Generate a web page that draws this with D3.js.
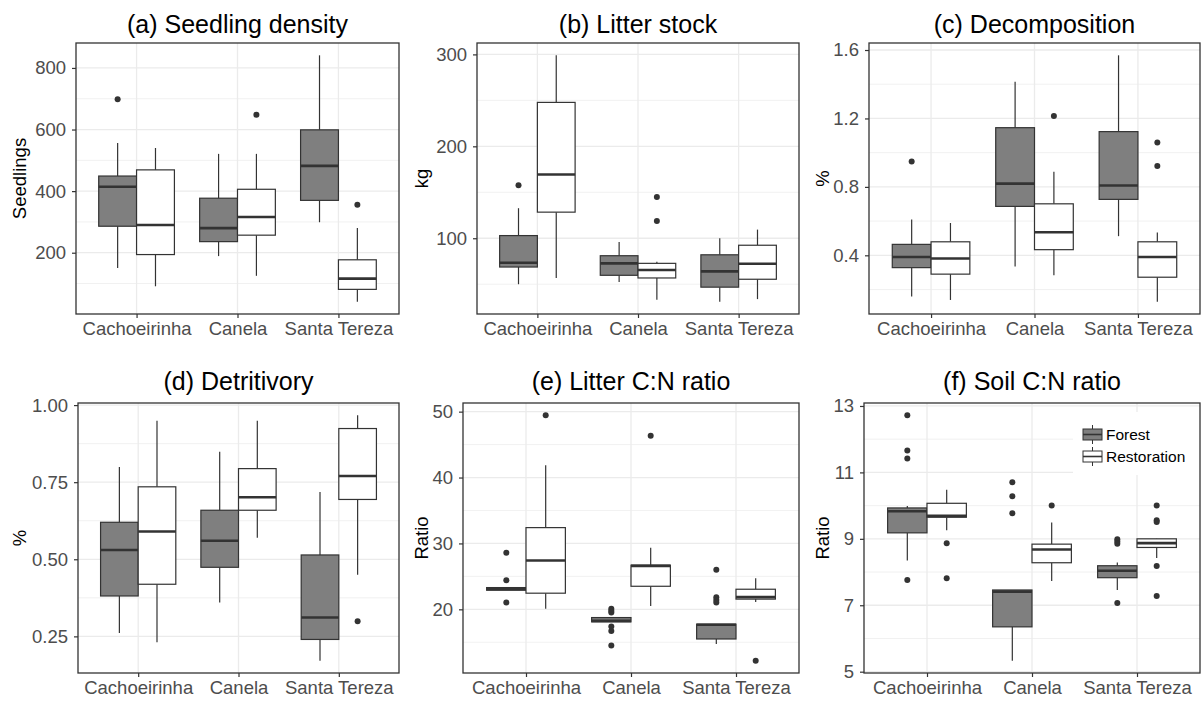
<!DOCTYPE html>
<html>
<head>
<meta charset="utf-8">
<script src="https://cdn.jsdelivr.net/npm/d3@7"></script>
<style>
  body { margin: 0; background: #fff; }
  text { font-family: "Liberation Sans", Arial, sans-serif; }
</style>
</head>
<body>
<div id="chart"></div>
<script>
const sites = ['Cachoeirinha', 'Canela', 'Santa Tereza']
const treatments = ['Forest', 'Restoration']

// box stats per site: [lower whisker, q1, median, q3, upper whisker]
const seedlingForest = [[150, 286, 414, 449, 556], [189, 236, 280, 377, 521], [299, 370, 482, 599, 841]]
const seedlingForestOut = [[698], [], []]
const seedlingRestor = [[91, 194, 290, 469, 540], [125, 257, 316, 406, 521], [41, 81, 116, 177, 280]]
const seedlingRestorOut = [[], [648], [356]]
const seedlingTicks = [200, 400, 600, 800]

const litterForest = [[50, 68.7, 73.4, 102.9, 132.7], [52.5, 59.7, 72.7, 81, 96], [31, 46.8, 64, 82, 100]]
const litterForestOut = [[157.6], [], []]
const litterRestor = [[56.8, 128.4, 169.4, 247.8, 299], [33, 56.8, 65.5, 72.7, 74.5], [33.8, 55.4, 72.3, 92.4, 109.4]]
const litterRestorOut = [[], [145, 118.7], []]
const litterTicks = [100, 200, 300]

const decompForest = [[0.160, 0.328, 0.390, 0.464, 0.609], [0.334, 0.686, 0.819, 1.146, 1.414], [0.512, 0.727, 0.808, 1.123, 1.569]]
const decompForestOut = [[0.949], [], []]
const decompRestor = [[0.139, 0.290, 0.381, 0.479, 0.589], [0.284, 0.433, 0.535, 0.701, 0.888], [0.129, 0.272, 0.390, 0.479, 0.533]]
const decompRestorOut = [[], [1.215], [1.059, 0.922]]
const decompTicks = [0.4, 0.8, 1.2, 1.6]

const detritForest = [[0.261, 0.381, 0.530, 0.620, 0.799], [0.360, 0.474, 0.560, 0.659, 0.849], [0.171, 0.240, 0.311, 0.514, 0.718]]
const detritForestOut = [[], [], []]
const detritRestor = [[0.231, 0.419, 0.590, 0.735, 0.949], [0.570, 0.659, 0.701, 0.794, 0.949], [0.450, 0.694, 0.770, 0.924, 0.967]]
const detritRestorOut = [[], [], [0.299]]
const detritTicks = [0.25, 0.5, 0.75, 1.0]

const litterCnForest = [[22.9, 22.9, 23.1, 23.3, 23.3], [18.1, 18.1, 18.25, 18.75, 18.75], [14.75, 15.5, 17.65, 17.75, 17.75]]
const litterCnForestOut = [[28.6, 24.4, 21.05], [20.1, 19.8, 19.5, 17.4, 16.7, 14.5], [26.0, 21.85, 21.4, 21.05]]
const litterCnRestor = [[20.1, 22.45, 27.4, 32.4, 41.85], [20.5, 23.5, 26.6, 26.7, 29.35], [21.1, 21.55, 21.85, 23.05, 24.7]]
const litterCnRestorOut = [[49.45], [46.35], [12.2]]
const litterCnTicks = [20, 30, 40, 50]

const soilCnForest = [[8.35, 9.18, 9.83, 9.93, 9.99], [5.33, 6.35, 7.41, 7.46, 7.46], [7.46, 7.83, 8.04, 8.19, 8.29]]
const soilCnForestOut = [[12.72, 11.66, 11.42, 7.76], [10.70, 10.28, 9.77], [8.99, 8.92, 8.85, 7.07]]
const soilCnRestor = [[9.26, 9.65, 9.69, 10.07, 10.48], [7.73, 8.28, 8.68, 8.84, 9.49], [8.42, 8.74, 8.87, 9.0, 9.01]]
const soilCnRestorOut = [[8.87, 7.81], [10.0], [10.0, 9.56, 9.51, 8.18, 7.28]]
const soilCnTicks = [5, 7, 9, 11, 13]

const fills = { Forest: '#7f7f7f', Restoration: '#ffffff' }
const dark = '#333333'

const panels = [
  { title: '(a) Seedling density', ylab: 'Seedlings', ticks: seedlingTicks, fmt: d3.format('d'),
    boxes: [seedlingForest, seedlingRestor], outs: [seedlingForestOut, seedlingRestorOut],
    l: 76, r: 399, t: 43, b: 314, labX: 20, titleY: 33 },
  { title: '(b) Litter stock', ylab: 'kg', ticks: litterTicks, fmt: d3.format('d'),
    boxes: [litterForest, litterRestor], outs: [litterForestOut, litterRestorOut],
    l: 477, r: 799, t: 43, b: 314, labX: 422, titleY: 33 },
  { title: '(c) Decomposition', ylab: '%', ticks: decompTicks, fmt: d3.format('.1f'),
    boxes: [decompForest, decompRestor], outs: [decompForestOut, decompRestorOut],
    l: 869, r: 1200, t: 43, b: 314, labX: 823, titleY: 33 },
  { title: '(d) Detritivory', ylab: '%', ticks: detritTicks, fmt: d3.format('.2f'),
    boxes: [detritForest, detritRestor], outs: [detritForestOut, detritRestorOut],
    l: 78, r: 399, t: 403, b: 673, labX: 20, titleY: 390 },
  { title: '(e) Litter C:N ratio', ylab: 'Ratio', ticks: litterCnTicks, fmt: d3.format('d'),
    boxes: [litterCnForest, litterCnRestor], outs: [litterCnForestOut, litterCnRestorOut],
    l: 463, r: 799, t: 403, b: 673, labX: 422, titleY: 390 },
  { title: '(f) Soil C:N ratio', ylab: 'Ratio', ticks: soilCnTicks, fmt: d3.format('d'),
    boxes: [soilCnForest, soilCnRestor], outs: [soilCnForestOut, soilCnRestorOut],
    l: 864, r: 1200, t: 403, b: 673, labX: 823, titleY: 390, legend: true }
]

const svg = d3.select('#chart').append('svg')
  .attr('width', 1201)
  .attr('height', 702)

panels.forEach(p => {
  const g = svg.append('g')

  // y domain from data with ggplot-style 5% expansion
  const all = []
  p.boxes.forEach(b => b.forEach(s => all.push(...s)))
  p.outs.forEach(o => o.forEach(s => all.push(...s)))
  const [lo, hi] = d3.extent(all)
  const pad = (hi - lo) * 0.05
  const y = d3.scaleLinear().domain([lo - pad, hi + pad]).range([p.b, p.t])

  const x = d3.scalePoint().domain(sites).range([p.l, p.r]).padding(0.6)
  const step = x.step()
  const bw = step * 0.375

  // minor gridlines
  const tstep = p.ticks[1] - p.ticks[0]
  const minor = []
  for (let v = p.ticks[0] - tstep / 2; v <= y.domain()[1]; v += tstep) {
    if (v >= y.domain()[0]) minor.push(v)
  }
  g.selectAll('.minor').data(minor).join('line')
    .attr('x1', p.l).attr('x2', p.r)
    .attr('y1', d => y(d)).attr('y2', d => y(d))
    .attr('stroke', '#ebebeb').attr('stroke-width', 0.7)

  g.selectAll('.major').data(p.ticks).join('line')
    .attr('x1', p.l).attr('x2', p.r)
    .attr('y1', d => y(d)).attr('y2', d => y(d))
    .attr('stroke', '#ebebeb').attr('stroke-width', 1.3)

  g.selectAll('.vgrid').data(sites).join('line')
    .attr('x1', d => x(d)).attr('x2', d => x(d))
    .attr('y1', p.t).attr('y2', p.b)
    .attr('stroke', '#ebebeb').attr('stroke-width', 1.3)

  // legend background (drawn before boxes, over gridlines)
  if (p.legend) {
    g.append('rect')
      .attr('x', 1073).attr('y', 412).attr('width', p.r - 1073).attr('height', 63)
      .attr('fill', '#fff')
  }

  // boxes
  treatments.forEach((tr, ti) => {
    const off = (ti === 0 ? -1 : 1) * bw / 2
    sites.forEach((s, si) => {
      const [wl, q1, med, q3, wh] = p.boxes[ti][si]
      const cx = x(s) + off
      const bg = g.append('g')
      bg.append('line').attr('x1', cx).attr('x2', cx).attr('y1', y(wh)).attr('y2', y(q3))
        .attr('stroke', dark).attr('stroke-width', 1.2)
      bg.append('line').attr('x1', cx).attr('x2', cx).attr('y1', y(q1)).attr('y2', y(wl))
        .attr('stroke', dark).attr('stroke-width', 1.2)
      bg.append('rect')
        .attr('x', cx - bw / 2).attr('width', bw)
        .attr('y', y(q3)).attr('height', Math.max(0, y(q1) - y(q3)))
        .attr('fill', fills[tr]).attr('stroke', dark).attr('stroke-width', 1.2)
      bg.append('line').attr('x1', cx - bw / 2).attr('x2', cx + bw / 2)
        .attr('y1', y(med)).attr('y2', y(med))
        .attr('stroke', dark).attr('stroke-width', 2.6)
      bg.selectAll('circle').data(p.outs[ti][si]).join('circle')
        .attr('cx', cx).attr('cy', d => y(d)).attr('r', 3)
        .attr('fill', dark)
    })
  })

  // panel border
  g.append('rect')
    .attr('x', p.l).attr('y', p.t).attr('width', p.r - p.l).attr('height', p.b - p.t)
    .attr('fill', 'none').attr('stroke', dark).attr('stroke-width', 1.3)

  // axes
  const ya = g.append('g').attr('transform', `translate(${p.l},0)`)
    .call(d3.axisLeft(y).tickValues(p.ticks).tickFormat(p.fmt).tickSize(4).tickPadding(6))
  const xa = g.append('g').attr('transform', `translate(0,${p.b})`)
    .call(d3.axisBottom(x).tickSize(4).tickPadding(4))
  ;[ya, xa].forEach(a => {
    a.select('.domain').remove()
    a.selectAll('.tick line').attr('stroke', dark).attr('stroke-width', 1.2)
    a.selectAll('.tick text').attr('fill', '#4d4d4d').style('font-size', '18.5px')
      .style('font-family', '"Liberation Sans", Arial, sans-serif')
  })

  // titles
  g.append('text')
    .attr('x', (p.l + p.r) / 2).attr('y', p.titleY)
    .attr('text-anchor', 'middle').style('font-size', '25px').attr('fill', '#000')
    .text(p.title)
  g.append('text')
    .attr('transform', `translate(${p.labX},${(p.t + p.b) / 2}) rotate(-90)`)
    .attr('text-anchor', 'middle').attr('dy', '0.35em')
    .style('font-size', '18.5px').attr('fill', '#000')
    .text(p.ylab)

  // legend
  if (p.legend) {
    treatments.forEach((tr, i) => {
      const ky = 427 + i * 22
      const kx = 1083
      const lg = g.append('g')
      lg.append('line').attr('x1', kx + 9.5).attr('x2', kx + 9.5).attr('y1', ky - 2).attr('y2', ky + 17)
        .attr('stroke', dark).attr('stroke-width', 1)
      lg.append('rect').attr('x', kx).attr('y', ky + 2).attr('width', 19).attr('height', 11)
        .attr('fill', fills[tr]).attr('stroke', dark).attr('stroke-width', 1)
      lg.append('line').attr('x1', kx).attr('x2', kx + 19).attr('y1', ky + 7.5).attr('y2', ky + 7.5)
        .attr('stroke', dark).attr('stroke-width', 1.6)
      lg.append('text').attr('x', kx + 23).attr('y', ky + 7.5).attr('dy', '0.35em')
        .style('font-size', '15.5px').attr('fill', '#000')
        .text(tr)
    })
  }
})
</script>
</body>
</html>
